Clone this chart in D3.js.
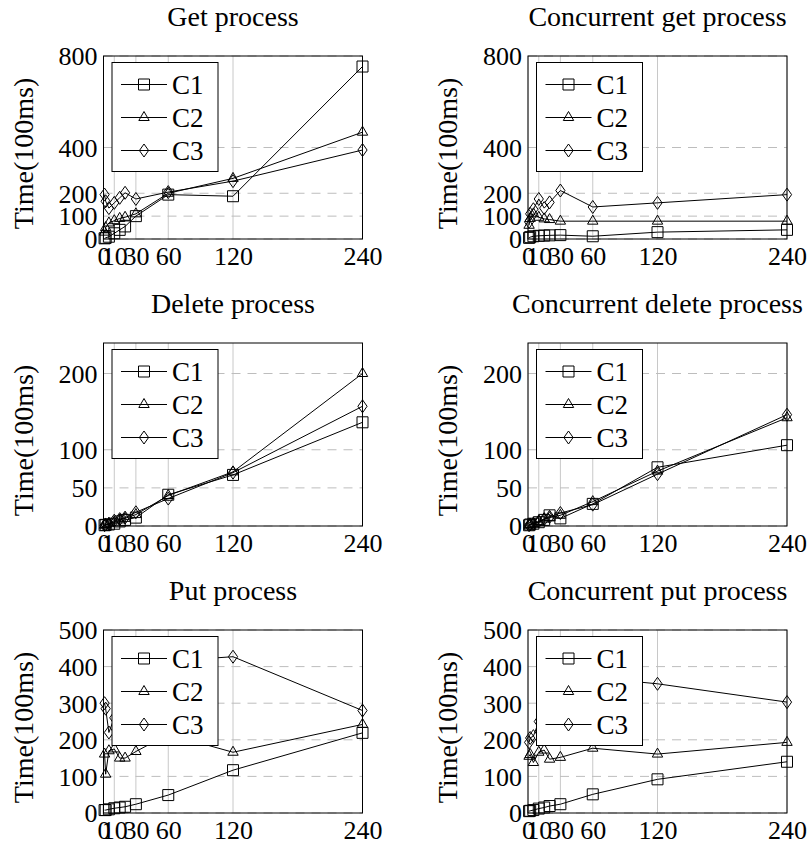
<!DOCTYPE html>
<html><head><meta charset="utf-8">
<script src="https://cdn.jsdelivr.net/npm/d3@7"></script>
<style>body{margin:0;background:#fff}svg{display:block}</style>
</head><body>
<svg id="chart" width="808" height="844"></svg>
<script>
// ---------- data ----------
const xValues = [1, 2, 5, 10, 15, 20, 30, 60, 120, 240];
const xTicks = [0, 10, 30, 60, 120, 240];
const seriesNames = ["C1", "C2", "C3"];

const titles = ["Get process", "Concurrent get process", "Delete process",
                "Concurrent delete process", "Put process", "Concurrent put process"];

const getTicks = [0, 100, 200, 400, 800];
const deleteTicks = [0, 50, 100, 200];
const putTicks = [0, 100, 200, 300, 400, 500];

const getC1 = [3, 5, 10, 25, 40, 55, 100, 194, 187, 754];
const getC2 = [30, 50, 70, 80, 90, 95, 110, 200, 265, 467];
const getC3 = [194, 165, 135, 158, 180, 202, 175, 205, 253, 389];

const cgetC1 = [5, 8, 12, 14, 15, 16, 17, 12, 30, 40];
const cgetC2 = [60, 90, 110, 95, 88, 85, 78, 78, 78, 78];
const cgetC3 = [75, 110, 130, 175, 135, 160, 212, 140, 158, 194];

const delC1 = [1, 1.5, 2, 3, 6, 8, 11, 41, 67, 136];
const delC2 = [1, 2, 3, 5, 8, 10, 15, 40, 71, 200];
const delC3 = [1, 2, 3, 7, 9, 11, 18, 36, 70, 157];

const cdelC1 = [1, 2, 3, 5, 8, 14, 10, 29, 77, 106];
const cdelC2 = [1, 2, 3, 6, 9, 11, 14, 32, 72, 142];
const cdelC3 = [1, 2, 3, 6, 9, 12, 17, 28, 68, 146];

const putC1 = [8, 8, 10, 13, 15, 17, 24, 49, 117, 219];
const putC2 = [161, 106, 170, 175, 150, 150, 168, 215, 166, 242];
const putC3 = [300, 285, 220, 260, 300, 340, 370, 415, 427, 280];

const cputC1 = [5, 6, 8, 12, 15, 19, 24, 51, 92, 140];
const cputC2 = [155, 160, 138, 166, 172, 147, 152, 177, 161, 193];
const cputC3 = [193, 205, 210, 250, 300, 330, 350, 370, 353, 303];

const panelData = [
  {title: titles[0], ymax: 800, ticks: getTicks, series: [getC1, getC2, getC3]},
  {title: titles[1], ymax: 800, ticks: getTicks, series: [cgetC1, cgetC2, cgetC3]},
  {title: titles[2], ymax: 240, ticks: deleteTicks, series: [delC1, delC2, delC3]},
  {title: titles[3], ymax: 240, ticks: deleteTicks, series: [cdelC1, cdelC2, cdelC3]},
  {title: titles[4], ymax: 500, ticks: putTicks, series: [putC1, putC2, putC3]},
  {title: titles[5], ymax: 500, ticks: putTicks, series: [cputC1, cputC2, cputC3]}
];

// ---------- layout ----------
const FONT = "'Liberation Serif', 'Times New Roman', serif";
const colLeft = [103.5, 528];
const rowTop = [56, 343, 630];
const W = 259, H = 183;

const markerPaths = [
  "M-5.5,-5.5H5.5V5.5H-5.5Z",
  "M0,-6L5.2,3L-5.2,3Z",
  "M0,-6.5L4.6,0L0,6.5L-4.6,0Z"
];

const svg = d3.select("#chart");

panelData.forEach((p, i) => {
  const col = i % 2, row = Math.floor(i / 2);
  const left = colLeft[col], top = rowTop[row];
  const g = svg.append("g").attr("transform", `translate(${left},${top})`);

  const x = d3.scaleLinear().domain([0, 240]).range([0, W]);
  const y = d3.scaleLinear().domain([0, p.ymax]).range([H, 0]);

  // grid
  g.append("g").selectAll("line").data(xTicks).join("line")
    .attr("x1", d => x(d)).attr("x2", d => x(d)).attr("y1", 0).attr("y2", H)
    .attr("stroke", "#c8c8c8").attr("stroke-width", 1);
  g.append("g").selectAll("line").data(p.ticks).join("line")
    .attr("x1", 0).attr("x2", W).attr("y1", d => y(d)).attr("y2", d => y(d))
    .attr("stroke", "#bdbdbd").attr("stroke-width", 1).attr("stroke-dasharray", "9,7");

  // axes (labels via d3 axis)
  const xAxis = d3.axisBottom(x).tickValues(xTicks).tickSize(0).tickPadding(0).tickFormat(d3.format("d"));
  const gx = g.append("g").attr("transform", `translate(0,${H})`).call(xAxis);
  gx.select(".domain").remove();
  gx.selectAll("text").attr("font-family", FONT).attr("font-size", 26)
    .attr("fill", "#000").attr("dy", null).attr("y", 26);

  const yAxis = d3.axisLeft(y).tickValues(p.ticks).tickSize(0).tickPadding(6).tickFormat(d3.format("d"));
  const gy = g.append("g").call(yAxis);
  gy.select(".domain").remove();
  gy.selectAll("text").attr("font-family", FONT).attr("font-size", 26)
    .attr("fill", "#000").attr("dy", "0.34em");

  // lines + markers
  const line = d3.line().x(d => x(d[0])).y(d => y(d[1]));
  p.series.forEach((vals, si) => {
    const pts = xValues.map((xv, k) => [xv, vals[k]]);
    g.append("path").datum(pts).attr("d", line)
      .attr("fill", "none").attr("stroke", "#000").attr("stroke-width", 1);
    g.append("g").selectAll("path").data(pts).join("path")
      .attr("transform", d => `translate(${x(d[0])},${y(d[1])})`)
      .attr("d", markerPaths[si]).attr("fill", "none")
      .attr("stroke", "#000").attr("stroke-width", 1);
  });

  // frame
  g.append("rect").attr("x", 0).attr("y", 0).attr("width", W).attr("height", H)
    .attr("fill", "none").attr("stroke", "#000").attr("stroke-width", 1);

  // legend
  const lg = g.append("g").attr("transform", "translate(8.5,6.5)");
  lg.append("rect").attr("width", 106).attr("height", 109)
    .attr("fill", "#fff").attr("stroke", "#000").attr("stroke-width", 1);
  seriesNames.forEach((name, si) => {
    const cy = 22 + si * 33;
    lg.append("line").attr("x1", 9).attr("x2", 55).attr("y1", cy).attr("y2", cy)
      .attr("stroke", "#000").attr("stroke-width", 1);
    lg.append("path").attr("transform", `translate(32,${cy})`).attr("d", markerPaths[si])
      .attr("fill", "none").attr("stroke", "#000").attr("stroke-width", 1);
    lg.append("text").attr("x", 60).attr("y", cy).attr("dy", "0.34em")
      .attr("font-family", FONT).attr("font-size", 27).text(name);
  });

  // title
  g.append("text").attr("x", W / 2).attr("y", -30).attr("text-anchor", "middle")
    .attr("font-family", FONT).attr("font-size", 28).text(p.title);

  // y label
  g.append("text").attr("transform", `translate(-71,${H / 2 + 6}) rotate(-90)`)
    .attr("text-anchor", "middle").attr("font-family", FONT).attr("font-size", 28)
    .text("Time(100ms)");
});
</script>
</body></html>
